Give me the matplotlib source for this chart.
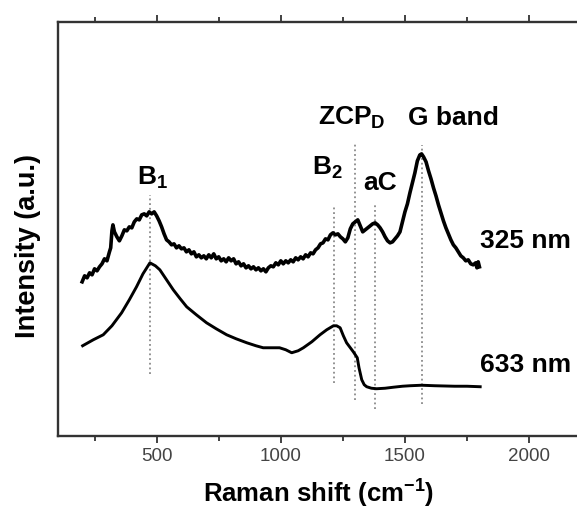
import matplotlib
matplotlib.use("Agg")
import matplotlib.pyplot as plt
from matplotlib.ticker import MultipleLocator

plt.rcParams['font.family'] = ['Liberation Sans', 'DejaVu Sans']
plt.rcParams['mathtext.fontset'] = 'custom'
plt.rcParams['mathtext.rm'] = 'Liberation Sans'
plt.rcParams['mathtext.bf'] = 'Liberation Sans:bold'
plt.rcParams['mathtext.it'] = 'Liberation Sans:italic'

# 325 nm spectrum (offset upward)
x325 = [200, 210, 220, 230, 240, 250, 260, 270, 280, 290, 300, 310, 315, 320, 324, 330, 340, 350,
        360, 370, 380, 390, 400, 410, 420, 430, 440, 450, 460, 470, 480, 490, 500, 510, 520, 530,
        540, 550, 560, 570, 580, 590, 600, 610, 620, 630, 640, 650, 660, 670, 680, 690, 700, 710,
        720, 730, 740, 750, 760, 770, 780, 790, 800, 810, 820, 830, 840, 850, 860, 870, 880, 890,
        900, 910, 920, 930, 940, 950, 960, 970, 980, 990, 1000, 1010, 1020, 1030, 1040, 1050, 1060,
        1070, 1080, 1090, 1100, 1110, 1120, 1130, 1140, 1150, 1160, 1170, 1180, 1190, 1200, 1210,
        1220, 1230, 1240, 1250, 1260, 1270, 1280, 1290, 1300, 1310, 1320, 1330, 1340, 1350, 1360,
        1370, 1380, 1390, 1400, 1410, 1420, 1430, 1440, 1450, 1460, 1470, 1480, 1490, 1500, 1510,
        1520, 1530, 1540, 1550, 1560, 1567, 1575, 1585, 1595, 1605, 1615, 1625, 1635, 1645, 1655,
        1665, 1675, 1685, 1695, 1705, 1715, 1725, 1735, 1745, 1755, 1765, 1775, 1785, 1790, 1795, 1800]
y325 = [154, 160, 158, 163, 161, 167, 165, 169, 172, 177, 175, 184, 188, 205, 211, 204, 199, 195,
        200, 206, 205, 209, 208, 214, 217, 216, 221, 222, 220, 224, 222, 224, 220, 215, 209, 202,
        196, 194, 191, 192, 188, 190, 187, 188, 184, 186, 182, 184, 179, 181, 178, 180, 177, 181,
        178, 182, 177, 179, 175, 177, 174, 178, 175, 177, 172, 174, 170, 172, 168, 170, 167, 169,
        166, 168, 165, 167, 164, 168, 170, 169, 173, 171, 175, 172, 175, 173, 176, 174, 178,
        176, 179, 177, 181, 179, 183, 182, 186, 188, 192, 193, 197, 196, 201, 203,
        201, 202, 199, 197, 194, 198, 207, 212, 214, 216, 210, 204, 206, 208, 210,
        212, 213, 211, 208, 204, 199, 195, 193, 194, 197, 200, 204, 214, 224, 232,
        243, 253, 263, 275, 281, 282, 279, 274, 265, 257, 248, 240, 231, 223, 215,
        208, 202, 196, 191, 188, 184, 180, 178, 175, 176, 172, 171, 173, 168, 174, 169]

# 633 nm spectrum
x633 = [202, 245, 285, 320, 359, 390, 419, 445, 473, 495, 513, 540, 567, 595, 621, 660, 701, 740,
        782, 820, 863, 900, 929, 960, 995, 1020, 1044, 1070, 1091, 1125, 1158, 1185, 1212, 1225,
        1239, 1252, 1265, 1280, 1292, 1300, 1308, 1315, 1326, 1336, 1346, 1365, 1386, 1420, 1453,
        1490, 1521, 1567, 1620, 1700, 1750, 1803]
y633 = [90, 96, 101, 110, 123, 136, 149, 162, 173, 170, 166, 156, 146, 137, 129, 121, 113, 107,
        101, 97, 93, 90, 88, 88, 88, 86, 83, 85, 88, 94, 101, 106, 110, 110,
        108, 100, 93, 88, 84, 81, 78, 68, 56, 51, 49, 47.5, 47, 47.5, 48.5,
        49.5, 50, 50.5, 50, 49.5, 49.5, 49]

# peak marker lines: position, y-bottom, y-top
peak_pos = [473, 1215, 1298, 1379, 1567]
peak_lo = [62, 53, 36, 27, 32]
peak_hi = [241, 230, 294, 232, 291]

labels = [r"$\mathbf{B_1}$", r"$\mathbf{B_2}$", r"$\mathbf{ZCP_D}$", "aC", "G band"]
label_x = [485, 1186, 1287, 1398, 1696]
label_y = [251, 261, 311, 246, 311]

series_labels = ["325 nm", "633 nm"]
series_label_x = [1984, 1984]
series_label_y = [188, 64]

xticks_major = [500, 1000, 1500, 2000]

fig = plt.figure(figsize=(5.77, 5.11), dpi=100)
ax = fig.add_axes([58.3 / 577, 75.3 / 511, (580 - 58.3) / 577, (489 - 75.3) / 511])
ax.set_xlim(104, 2205)
ax.set_ylim(0, 414)

for p, lo, hi in zip(peak_pos, peak_lo, peak_hi):
    ax.plot([p, p], [lo, hi], color='#8a8a8a', lw=1.3, ls=(0, (1, 1.6)), zorder=1)

ax.plot(x325, y325, color='black', lw=2.6, zorder=3, solid_joinstyle='round')
ax.plot(x633, y633, color='black', lw=2.1, zorder=3, solid_joinstyle='round')

for t, lx, ly in zip(labels, label_x, label_y):
    ax.text(lx, ly, t, ha='center', va='baseline', fontsize=19, fontweight='bold')
for t, lx, ly in zip(series_labels, series_label_x, series_label_y):
    ax.text(lx, ly, t, ha='center', va='baseline', fontsize=19, fontweight='bold')

ax.set_xticks(xticks_major)
ax.xaxis.set_minor_locator(MultipleLocator(250))
ax.set_yticks([])
ax.tick_params(axis='x', which='both', top=True, bottom=True, direction='out',
               color='#333333', labelcolor='#444444', labelsize=13.5, pad=4)
ax.tick_params(axis='x', which='major', length=5, width=1.3)
ax.tick_params(axis='x', which='minor', length=3.5, width=1.3)
for s in ['left', 'bottom', 'top']:
    ax.spines[s].set_color('#333333')
    ax.spines[s].set_linewidth(1.7)
ax.spines['right'].set_visible(False)

fig.text(319 / 577, 8 / 511, r"Raman shift (cm$^{\mathbf{-1}}$)", ha='center', va='baseline',
         fontsize=18.5, fontweight='bold')
fig.text(28 / 577, (511 - 246.5) / 511, "Intensity (a.u.)", ha='center', va='center',
         rotation=90, fontsize=19.5, fontweight='bold')

fig.savefig("out.png", dpi=100)
